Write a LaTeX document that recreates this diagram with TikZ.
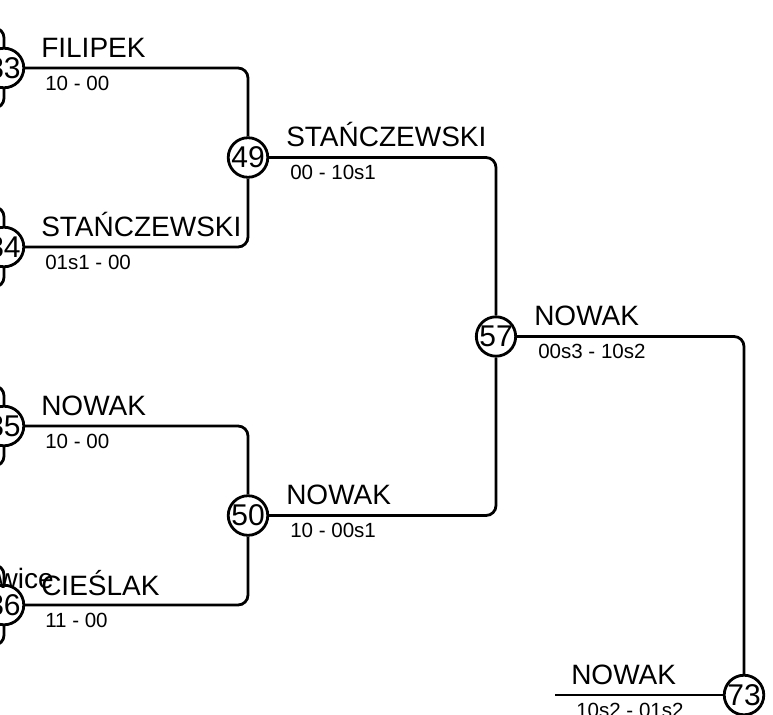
\documentclass[tikz,border=0pt]{standalone}
\usepackage{fontspec}
\setmainfont{Liberation Sans}
\usetikzlibrary{positioning}
\tikzset{
    bout/.style={circle, draw, line width=2.1pt, inner sep=0pt, minimum size=29.5pt, font=\fontsize{22.5}{22.5}\selectfont}, % numbered match circle
    player/.style={anchor=base west, inner sep=0pt, font=\fontsize{21}{21}\selectfont}, % winner name
    score/.style={anchor=base west, inner sep=0pt, font=\fontsize{15.4}{15.4}\selectfont}, % match score
    link/.style={line width=2.1pt, rounded corners=7.5pt}
}

\begin{document}
\begin{tikzpicture}[x=0.75pt, y=-0.75pt]
    \useasboundingbox (0,0) rectangle (773,714);
    \clip (0,0) rectangle (773,714);

    % matches
    \node[bout] (m33) at (4,68) {33};
    \node[bout] (m34) at (4,247) {34};
    \node[bout] (m35) at (4,426) {35};
    \node[bout] (m36) at (4,605) {36};
    \node[bout] (m49) at (248,157.5) {49};
    \node[bout] (m50) at (248,515.5) {50};
    \node[bout] (m57) at (496,336.5) {57};
    \node[bout] (m73) at (744,695) {73};
    \coordinate (feed) at (555,695);

    % stubs of the earlier rounds
    \foreach \m in {33,34,35,36}{
        \draw[link] (m\m.north) -- ++(0,-19) -- ++(-30,0);
        \draw[link] (m\m.south) -- ++(0,19) -- ++(-30,0);
    }

    \draw[link] (m33.east) -| (m49.north);
    \draw[link] (m34.east) -| (m49.south);
    \draw[link] (m35.east) -| (m50.north);
    \draw[link] (m36.east) -| (m50.south);
    \draw[link] (m49.east) -| (m57.north);
    \draw[link] (m50.east) -| (m57.south);
    \draw[link] (m57.east) -| (m73.north);
    \draw[link] (feed) -- (m73.west);

    % names and scores
    \node[player, anchor=base east] (town) at (54,588) {wice};
    \node[player] (p33) at (41,57) {FILIPEK};
    \node[score] (s33) at (45,90) {10 - 00};
    \node[player] (p34) at (41,236) {STAŃCZEWSKI};
    \node[score] (s34) at (45,269) {01s1 - 00};
    \node[player] (p35) at (41,415) {NOWAK};
    \node[score] (s35) at (45,448) {10 - 00};
    \node[player] (p36) at (41,595) {CIEŚLAK};
    \node[score] (s36) at (45,627) {11 - 00};
    \node[player] (p49) at (286,146.5) {STAŃCZEWSKI};
    \node[score] (s49) at (290,179.5) {00 - 10s1};
    \node[player] (p50) at (286,504.5) {NOWAK};
    \node[score] (s50) at (290,537.5) {10 - 00s1};
    \node[player] (p57) at (534,325.5) {NOWAK};
    \node[score] (s57) at (538,358.5) {00s3 - 10s2};
    \node[player] (p73) at (571,684) {NOWAK};
    \node[score] (s73) at (576,717) {10s2 - 01s2};
\end{tikzpicture}
\end{document}
